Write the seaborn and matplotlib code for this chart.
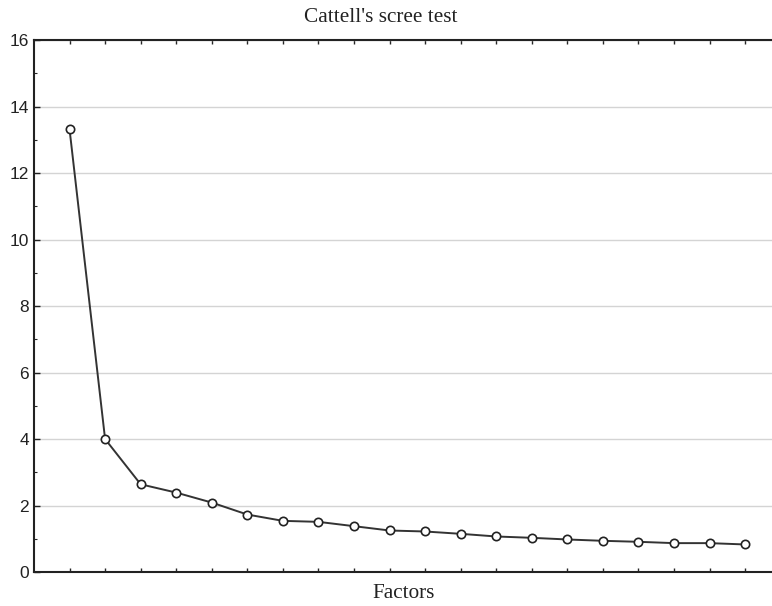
import numpy as np
import pandas as pd
import seaborn as sns
import matplotlib.pyplot as plt
from matplotlib.ticker import MultipleLocator

# eigenvalues
factors = list(range(1, 21))
eigenvalues = [13.32, 4.00, 2.64, 2.39, 2.09, 1.73, 1.54, 1.51, 1.38, 1.25,
               1.22, 1.15, 1.07, 1.03, 0.98, 0.94, 0.91, 0.87, 0.87, 0.83]

df = pd.DataFrame({"Factor": factors, "Eigenvalue": eigenvalues})

sns.set_style("white")
plt.rcParams['font.family'] = ['Liberation Sans', 'DejaVu Sans']

fig = plt.figure(figsize=(7.72, 6.06), dpi=100)
ax = fig.add_axes([0.044, 0.056, 0.958, 0.878])

sns.lineplot(data=df, x="Factor", y="Eigenvalue", ax=ax, color="#333333",
             linewidth=1.4, marker="o", markersize=6, markerfacecolor="white",
             markeredgecolor="#222222", markeredgewidth=1.2)

ax.set_xlim(0, 20.8)
ax.set_ylim(0, 16)
ax.yaxis.set_major_locator(MultipleLocator(2))
ax.yaxis.set_minor_locator(MultipleLocator(1))
ax.set_xticks(factors)
ax.set_xticklabels([])

ax.grid(axis="y", which="major", color="#d4d4d4", linewidth=1.0)
ax.set_axisbelow(True)

ax.tick_params(axis="y", which="major", direction="in", length=4, width=1,
               labelsize=12.5, colors="#222222", left=True)
ax.tick_params(axis="y", which="minor", direction="in", length=2.5, width=0.8,
               left=True)
ax.tick_params(axis="x", which="major", direction="in", length=3, width=1,
               bottom=True, top=True)

for side in ["left", "bottom", "top"]:
    ax.spines[side].set_color("#222222")
    ax.spines[side].set_linewidth(1.5)
ax.spines["right"].set_visible(False)

ax.set_ylabel("")
ax.set_xlabel("Factors", family=["Liberation Serif"], fontsize=15.3, color="#222222",
              labelpad=5)
ax.set_title("Cattell's scree test", family=["Liberation Serif"], fontsize=15.3,
             color="#222222", pad=13, x=0.469)

fig.savefig("out.png", dpi=100)
